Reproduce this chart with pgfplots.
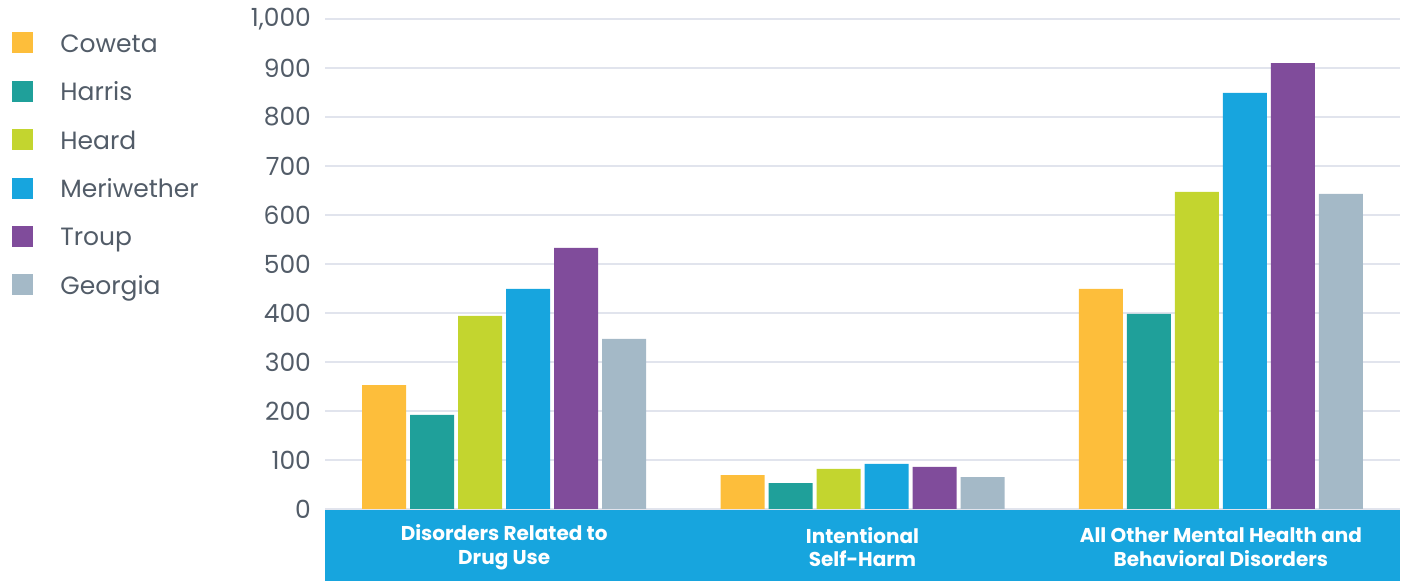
\documentclass[border=0pt]{standalone}
\usepackage{pgfplots}
\pgfplotsset{compat=1.18}
\usepackage{fontspec}
\setmainfont{Poppins}
\definecolor{cCoweta}{HTML}{FDBE3B}
\definecolor{cHarris}{HTML}{1FA09A}
\definecolor{cHeard}{HTML}{C3D52F}
\definecolor{cMeri}{HTML}{17A5DE}
\definecolor{cTroup}{HTML}{804C9B}
\definecolor{cGeorgia}{HTML}{A4B9C7}
\definecolor{bandc}{HTML}{17A5DE}
\definecolor{gridc}{HTML}{E1E4ED}
\definecolor{textc}{HTML}{525C68}
\begin{document}
\begin{tikzpicture}
\useasboundingbox (0,0) rectangle (703pt,290.5pt);
\fill[bandc] (162.5pt,0pt) rectangle (700pt,36pt);
\begin{axis}[
  at={(162.5pt,36pt)}, anchor=south west,
  scale only axis, width=537.5pt, height=245pt,
  xmin=-0.5, xmax=2.5, ymin=0, ymax=1000,
  axis line style={draw=none}, tick style={draw=none},
  ymajorgrids, grid style={color=gridc, line width=1.3pt},
  ytick={0,100,...,1000},
  xtick={0,1,2},
  xticklabels={Disorders Related to\\Drug Use, Intentional\\Self-Harm, All Other Mental Health and\\Behavioral Disorders},
  /pgf/number format/assume math mode=true,
  /pgf/number format/1000 sep={,},
  yticklabel style={font=\fontsize{12.5}{14}\selectfont, text=textc, xshift=-3.5pt},
  xticklabel style={font=\fontsize{10}{11.8}\selectfont\bfseries, text=white, align=center, anchor=center, yshift=-19pt},
  legend style={at={(-0.2912,0.9735)}, anchor=north west, draw=none, fill=none, inner sep=0pt,
    nodes={inner sep=0pt, text height=8.5pt, text depth=2.5pt},
    font=\fontsize{12.5}{14}\selectfont, text=textc, row sep=11.7pt, column sep=13.5pt},
  legend cell align=left,
  legend image code/.code={\fill[#1] (0pt,-3.5pt) rectangle (10.5pt,7pt);},
]
\addplot[ybar, bar width=22pt, bar shift=-60pt, fill=cCoweta, draw=none] coordinates {(0,253) (1,69) (2,449)};
\addlegendentry{Coweta}
\addplot[ybar, bar width=22pt, bar shift=-36pt, fill=cHarris, draw=none] coordinates {(0,192) (1,53) (2,398)};
\addlegendentry{Harris}
\addplot[ybar, bar width=22pt, bar shift=-12pt, fill=cHeard, draw=none] coordinates {(0,394) (1,82) (2,647)};
\addlegendentry{Heard}
\addplot[ybar, bar width=22pt, bar shift=12pt, fill=cMeri, draw=none] coordinates {(0,449) (1,92) (2,849)};
\addlegendentry{Meriwether}
\addplot[ybar, bar width=22pt, bar shift=36pt, fill=cTroup, draw=none] coordinates {(0,533) (1,86) (2,910)};
\addlegendentry{Troup}
\addplot[ybar, bar width=22pt, bar shift=60pt, fill=cGeorgia, draw=none] coordinates {(0,347) (1,65) (2,643)};
\addlegendentry{Georgia}
\end{axis}
\end{tikzpicture}
\end{document}
